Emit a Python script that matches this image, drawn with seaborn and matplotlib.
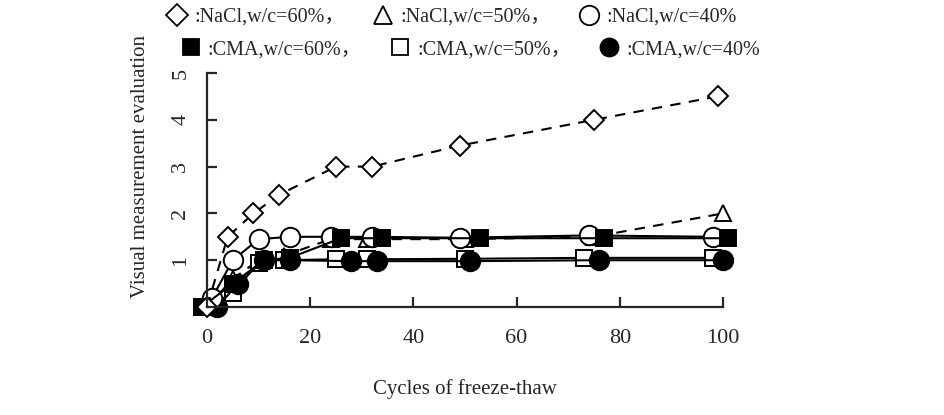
import seaborn as sns
import matplotlib.pyplot as plt
from matplotlib.lines import Line2D

sns.set_style("ticks")
plt.rcParams['font.family'] = ['Liberation Serif', 'Noto Sans CJK SC']

# values (cycles of freeze-thaw, visual evaluation)
nacl60_x = [0, 4, 9, 14, 25, 32, 49, 75, 99]
nacl60_y = [0, 1.5, 2.0, 2.4, 3.0, 3.0, 3.45, 4.0, 4.5]
nacl50_x = [0, 5, 10, 15, 24, 31, 50, 75, 100]
nacl50_y = [0, 0.6, 1.0, 1.1, 1.45, 1.45, 1.45, 1.5, 2.0]
nacl40_x = [1, 5, 10, 16, 24, 32, 49, 74, 98]
nacl40_y = [0.2, 1.0, 1.45, 1.5, 1.5, 1.5, 1.48, 1.53, 1.5]
cma60_x = [-1, 5, 11, 16, 26, 34, 53, 77, 101]
cma60_y = [0, 0.5, 1.0, 1.05, 1.47, 1.47, 1.47, 1.47, 1.47]
cma50_x = [0, 5, 10, 15, 25, 31, 50, 73, 98]
cma50_y = [0, 0.3, 0.95, 1.0, 1.02, 1.02, 1.03, 1.05, 1.05]
cma40_x = [2, 6, 11, 16, 28, 33, 51, 76, 100]
cma40_y = [0, 0.5, 1.0, 1.0, 0.98, 0.98, 0.98, 1.0, 1.0]

labels = [':NaCl,w/c=60%，', ':NaCl,w/c=50%，', ':NaCl,w/c=40%',
          ':CMA,w/c=60%，', ':CMA,w/c=50%，', ':CMA,w/c=40%']

fig = plt.figure(figsize=(9.44, 4.15), dpi=100)
ax = fig.add_axes([0.2193, 0.2602, 0.5466, 0.5639])

dash = (0, (5, 4))
common = dict(color='black', markeredgecolor='black', markeredgewidth=1.4,
              linewidth=1.5, clip_on=False, sort=False)
sns.lineplot(x=nacl50_x, y=nacl50_y, ax=ax, marker='^', markersize=12,
             markerfacecolor='white', linestyle=dash, **common)
sns.lineplot(x=cma50_x, y=cma50_y, ax=ax, marker='s', markersize=11,
             markerfacecolor='white', **common)
sns.lineplot(x=cma40_x, y=cma40_y, ax=ax, marker='o', markersize=14,
             markerfacecolor='black', **common)
sns.lineplot(x=nacl40_x, y=nacl40_y, ax=ax, marker='o', markersize=14,
             markerfacecolor='white', **common)
sns.lineplot(x=cma60_x, y=cma60_y, ax=ax, marker='s', markersize=12,
             markerfacecolor='black', **common)
sns.lineplot(x=nacl60_x, y=nacl60_y, ax=ax, marker='D', markersize=10.5,
             markerfacecolor='white', linestyle=dash, **common)

ax.set_xlim(0, 100)
ax.set_ylim(0, 5)
ax.set_xticks([0, 20, 40, 60, 80, 100])
ax.set_yticks([1, 2, 3, 4, 5])
sns.despine(ax=ax)
for s in ['left', 'bottom']:
    ax.spines[s].set_linewidth(1.6)
ax.tick_params(direction='in', length=7, width=1.6, labelsize=16)
ax.tick_params(axis='x', pad=16)
ax.tick_params(axis='y', pad=12, labelrotation=90)
for t in ax.get_yticklabels():
    t.set_va('center')

ax.set_xlabel('Cycles of freeze-thaw', fontsize=15)
ax.set_ylabel('Visual measurement evaluation', fontsize=15)
ax.xaxis.set_label_coords(0.5, -0.31)
ax.yaxis.set_label_coords(-0.11, 0.6)

def handle(m, fc, ms):
    return Line2D([], [], linestyle='none', marker=m, markersize=ms,
                  markerfacecolor=fc, markeredgecolor='black', markeredgewidth=1.3)

row1 = [handle('D', 'white', 11), handle('^', 'white', 13), handle('o', 'white', 14)]
row2 = [handle('s', 'black', 12), handle('s', 'white', 12), handle('o', 'black', 13)]
kw = dict(ncol=3, frameon=False, handlelength=1.0, handletextpad=0.35,
          columnspacing=1.4, prop={'size': 14.5}, loc='upper left')
fig.legend(row1, labels[:3], bbox_to_anchor=(0.158, 1.025), **kw)
fig.legend(row2, labels[3:], bbox_to_anchor=(0.172, 0.947), **kw)

fig.savefig('out.png', dpi=100)
